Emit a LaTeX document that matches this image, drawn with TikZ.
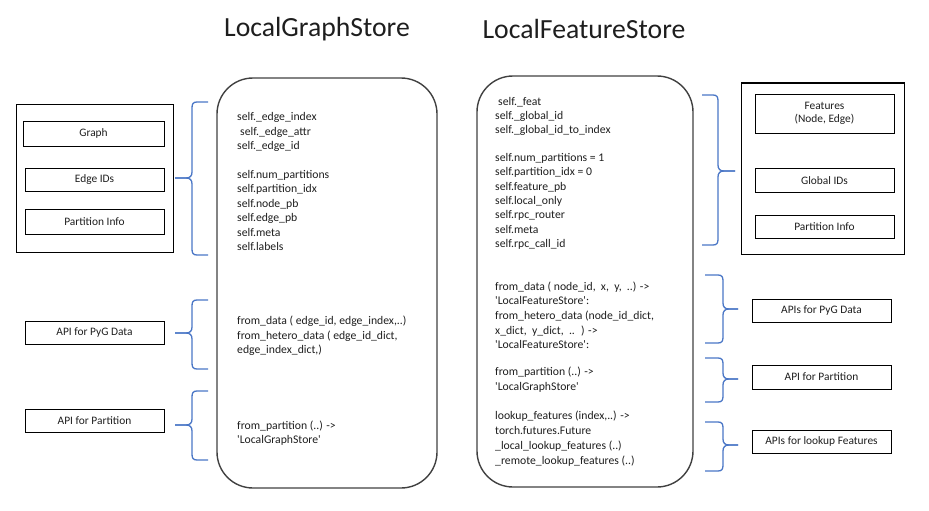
\documentclass[tikz,border=0pt]{standalone}
\usepackage{fontspec}
\setmainfont{Carlito}
\definecolor{braceblue}{HTML}{4A76C6}
\definecolor{storegray}{HTML}{404040}
\definecolor{inkgray}{HTML}{1E1E1E}
% left-pointing brace: #1 tip x, #2 spine x, #3 end x, #4 top y, #5 tip y, #6 bottom y
\newcommand\mybraceL[6]{%
  \draw[brace] (#3,#4) -- (#2+5,#4) .. controls (#2+1,#4) and (#2,#4+2) .. (#2,#4+6)
    -- (#2,#5-6) .. controls (#2,#5-2) and (#2-2,#5) .. (#2-6,#5) -- (#1,#5);
  \draw[brace] (#1,#5) -- (#2-6,#5) .. controls (#2-2,#5) and (#2,#5+2) .. (#2,#5+6)
    -- (#2,#6-6) .. controls (#2,#6-2) and (#2+1,#6) .. (#2+5,#6) -- (#3,#6);}
% right-pointing brace: #1 end x, #2 spine x, #3 tip x, #4 top y, #5 tip y, #6 bottom y
\newcommand\mybraceR[6]{%
  \draw[brace] (#1,#4) -- (#2-5,#4) .. controls (#2-1,#4) and (#2,#4+2) .. (#2,#4+6)
    -- (#2,#5-6) .. controls (#2,#5-2) and (#2+2,#5) .. (#2+6,#5) -- (#3,#5);
  \draw[brace] (#3,#5) -- (#2+6,#5) .. controls (#2+2,#5) and (#2,#5+2) .. (#2,#5+6)
    -- (#2,#6-6) .. controls (#2,#6-2) and (#2-1,#6) .. (#2-5,#6) -- (#1,#6);}
\begin{document}
\begin{tikzpicture}[x=1pt,y=-1pt,
  box/.style={draw=black, line width=1pt, inner sep=0pt, text=inkgray,
    font=\fontsize{11.4}{13.5}\selectfont, align=center},
  outer/.style={draw=black, line width=1pt, inner sep=0pt},
  store/.style={draw=storegray, line width=1.4pt, rounded corners=36pt},
  brace/.style={draw=braceblue, line width=1.3pt},
  code/.style={anchor=base west, inner sep=0pt, text=inkgray,
    font=\fontsize{11.7}{14}\selectfont},
  title/.style={inner sep=0pt, text=inkgray, font=\fontsize{27.7}{30}\selectfont}]
\useasboundingbox (0,0) rectangle (929,511);

% titles
\node[title] (t1) at (317,29) {LocalGraphStore};
\node[title] (t2) at (584,29) {LocalFeatureStore};

% store outlines
\draw[store] (217,78) rectangle (437,488);
\draw[store] (477,76) rectangle (693,487);

% left side boxes
\node[outer, minimum width=157pt, minimum height=148pt] (lout) at (94.5,178) {};
\node[box, minimum width=141pt, minimum height=25pt] (graph) at (93.5,133.5) {Graph};
\node[box, minimum width=139pt, minimum height=23pt] (eids) at (94.5,179.5) {Edge IDs};
\node[box, minimum width=139pt, minimum height=25pt] (lpinfo) at (94.5,221.5) {Partition Info};
\node[box, minimum width=139pt, minimum height=23pt] (lpyg) at (94.5,332.5) {API for PyG Data};
\node[box, minimum width=139pt, minimum height=23pt] (lpart) at (94.5,420.5) {API for Partition};

% right side boxes
\node[outer, minimum width=163pt, minimum height=171pt] (rout) at (822.5,168.5) {};
\node[box, minimum width=139pt, minimum height=39pt] (feat) at (824.5,113.5) {Features\\(Node, Edge)};
\node[box, minimum width=139pt, minimum height=24pt] (gids) at (824.5,180.5) {Global IDs};
\node[box, minimum width=139pt, minimum height=23pt] (rpinfo) at (824.5,226.5) {Partition Info};
\node[box, minimum width=139pt, minimum height=23pt] (rpyg) at (821.5,310.5) {APIs for PyG Data};
\node[box, minimum width=139pt, minimum height=24pt] (rpart) at (821.5,377) {API for Partition};
\node[box, minimum width=139pt, minimum height=23pt] (rlook) at (821.5,441.5) {APIs for lookup Features};

% braces
\mybraceL{175}{192}{208}{102}{178}{255}
\mybraceL{175}{192}{208}{300}{333}{369}
\mybraceL{175}{192}{208}{391}{425}{460}
\mybraceR{702}{718}{735}{95}{171}{245}
\mybraceR{705}{723}{738}{275}{309}{343}
\mybraceR{705}{723}{738}{358}{379}{402}
\mybraceR{705}{723}{738}{422}{445}{471}

% LocalGraphStore text
\foreach \yy/\xx/\txt [count=\i] in {
  117/237/{self.\_edge\_index},
  131/240/{self.\_edge\_attr},
  145/237/{self.\_edge\_id},
  174/237/{self.num\_partitions},
  188/237/{self.partition\_idx},
  203/237/{self.node\_pb},
  217/237/{self.edge\_pb},
  232/237/{self.meta},
  246/237/{self.labels},
  320/237/{from\_data ( edge\_id, edge\_index,..)},
  335/237/{from\_hetero\_data ( edge\_id\_dict,},
  349/237/{edge\_index\_dict,)},
  425/237/{from\_partition (..) ->},
  439/237/{\textquotesingle LocalGraphStore\textquotesingle}}
  \node[code] (g\i) at (\xx,\yy+4) {\txt};

% LocalFeatureStore text
\foreach \yy/\xx/\txt [count=\i] in {
  101/498/{self.\_feat},
  115/495/{self.\_global\_id},
  129/495/{self.\_global\_id\_to\_index},
  157/495/{self.num\_partitions = 1},
  171/495/{self.partition\_idx = 0},
  186/495/{self.feature\_pb},
  200/495/{self.local\_only},
  214/495/{self.rpc\_router},
  229/495/{self.meta},
  243/495/{self.rpc\_call\_id},
  286/495/{from\_data ( node\_id,~ x,~ y,~ ..) ->},
  300/495/{\textquotesingle LocalFeatureStore\textquotesingle:},
  315/495/{from\_hetero\_data (node\_id\_dict,},
  330/495/{x\_dict,~ y\_dict,~ ..~ ) ->},
  344/495/{\textquotesingle LocalFeatureStore\textquotesingle:},
  371/495/{from\_partition (..) ->},
  386/495/{\textquotesingle LocalGraphStore\textquotesingle},
  415/495/{lookup\_features (index,..) ->},
  430/495/{torch.futures.Future},
  445/495/{\_local\_lookup\_features (..)},
  460/495/{\_remote\_lookup\_features (..)}}
  \node[code] (f\i) at (\xx,\yy+4) {\txt};
\end{tikzpicture}
\end{document}
